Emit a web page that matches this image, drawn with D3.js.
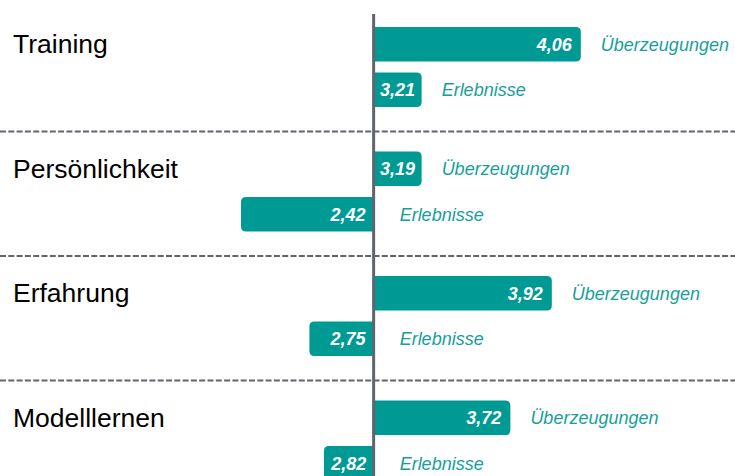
<!DOCTYPE html>
<html>
<head>
<meta charset="utf-8">
<script src="https://cdn.jsdelivr.net/npm/d3@7"></script>
<style>
  body { margin: 0; background: #ffffff; }
  svg { display: block; font-family: "Liberation Sans", Arial, sans-serif; }
</style>
</head>
<body>
<div id="chart"></div>
<script>
// global variables
var width = 735,
    height = 476;

// data
var categories = ["Training", "Persönlichkeit", "Erfahrung", "Modelllernen"];
var seriesNames = ["Überzeugungen", "Erlebnisse"];
var ueberzeugungen = [4.06, 3.19, 3.92, 3.72];
var erlebnisse = [3.21, 2.42, 2.75, 2.82];
var baseValue = 3.06;

var teal = "#009a94",
    labelTeal = "#17a09a",
    axisGrey = "#5f656d",
    minBar = 48,
    barH = 34.5,
    r = 5;

var svg = d3.select("#chart").append("svg")
    .attr("width", width)
    .attr("height", height);

// scales
var x = d3.scaleLinear()
    .domain([2, 4.5])
    .range([154, 672]);

var y = d3.scaleBand()
    .domain(categories)
    .range([22, 22 + 4 * 124.5]);

var x0 = x(baseValue);

// rows: one per bar
var rows = [];
categories.forEach(function(c, i){
    rows.push({cat: c, series: seriesNames[0], value: ueberzeugungen[i], top: y(c) + 5});
    rows.push({cat: c, series: seriesNames[1], value: erlebnisse[i], top: y(c) + 50.5});
});

// bar with rounded outer end
function barPath(d){
    var x1 = x(d.value);
    var w = Math.max(Math.abs(x1 - x0), minBar);
    var t = d.top, b = d.top + barH;
    if(d.value >= baseValue){
        var e = x0 + w;
        return "M" + x0 + "," + t + "H" + (e - r) + "Q" + e + "," + t + " " + e + "," + (t + r) +
            "V" + (b - r) + "Q" + e + "," + b + " " + (e - r) + "," + b + "H" + x0 + "Z";
    } else {
        var s = x0 - w;
        return "M" + x0 + "," + t + "H" + (s + r) + "Q" + s + "," + t + " " + s + "," + (t + r) +
            "V" + (b - r) + "Q" + s + "," + b + " " + (s + r) + "," + b + "H" + x0 + "Z";
    }
}
function barWidth(d){
    return Math.max(Math.abs(x(d.value) - x0), minBar);
}

// dashed separators
svg.selectAll(".sep")
    .data(categories.slice(1))
  .enter().append("line")
    .attr("class", "sep")
    .attr("x1", 0)
    .attr("x2", width)
    .attr("y1", function(d){ return y(d) - 15; })
    .attr("y2", function(d){ return y(d) - 15; })
    .style("stroke", "#5f656d")
    .style("stroke-width", 1.8)
    .style("stroke-dasharray", "6,2.3");

// category labels
svg.selectAll(".cat")
    .data(categories)
  .enter().append("text")
    .attr("class", "cat")
    .attr("x", 13)
    .attr("y", function(d){ return y(d) + 5 + barH / 2 + 9; })
    .style("font-size", "26.5px")
    .style("fill", "#000")
    .text(function(d){ return d; });

// bars
svg.selectAll(".bar")
    .data(rows)
  .enter().append("path")
    .attr("class", "bar")
    .attr("d", barPath)
    .style("fill", teal);

// value labels
svg.selectAll(".val")
    .data(rows)
  .enter().append("text")
    .attr("class", "val")
    .attr("x", function(d){
        var w = barWidth(d);
        if(w < 56) return d.value >= baseValue ? x0 + w / 2 : x0 - w / 2;
        return d.value >= baseValue ? x0 + w - 9 : x0 - 8;
    })
    .attr("y", function(d){ return d.top + barH / 2; })
    .attr("dy", "0.36em")
    .attr("text-anchor", function(d){ return barWidth(d) < 56 ? "middle" : "end"; })
    .style("font-size", "18px")
    .style("font-weight", "bold")
    .style("font-style", "italic")
    .style("fill", "#fff")
    .text(function(d){ return d3.format(".2f")(d.value).replace(".", ","); });

// series labels
svg.selectAll(".ser")
    .data(rows)
  .enter().append("text")
    .attr("class", "ser")
    .attr("x", function(d){
        return d.value >= baseValue ? x0 + barWidth(d) + 20 : x0 + 26;
    })
    .attr("y", function(d){ return d.top + barH / 2; })
    .attr("dy", "0.36em")
    .style("font-size", "18px")
    .style("font-style", "italic")
    .style("fill", labelTeal)
    .text(function(d){ return d.series; });

// center axis
svg.append("line")
    .attr("x1", x0)
    .attr("x2", x0)
    .attr("y1", 14)
    .attr("y2", height)
    .style("stroke", axisGrey)
    .style("stroke-width", 3);
</script>
</body>
</html>
